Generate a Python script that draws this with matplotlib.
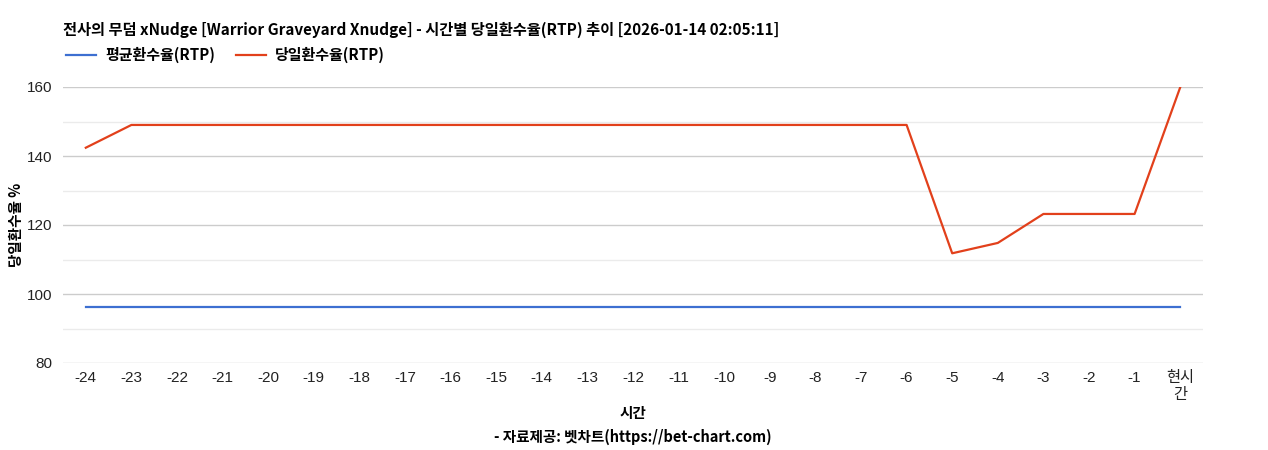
import matplotlib

matplotlib.use("Agg")

import matplotlib.pyplot as plt
from matplotlib.ticker import MultipleLocator

plt.rcParams["font.family"] = ["Noto Sans CJK KR", "DejaVu Sans"]

# data
hours = ["-24", "-23", "-22", "-21", "-20", "-19", "-18", "-17", "-16", "-15",
         "-14", "-13", "-12", "-11", "-10", "-9", "-8", "-7", "-6", "-5",
         "-4", "-3", "-2", "-1", "현시\n간"]
avg_rtp = [96.2] * 25
day_rtp = [142.4, 149.0, 149.0, 149.0, 149.0, 149.0, 149.0, 149.0, 149.0, 149.0,
           149.0, 149.0, 149.0, 149.0, 149.0, 149.0, 149.0, 149.0, 149.0, 111.8,
           114.8, 123.2, 123.2, 123.2, 159.9]

title = "전사의 무덤 xNudge [Warrior Graveyard Xnudge] - 시간별 당일환수율(RTP) 추이 [2026-01-14 02:05:11]"
avg_label = "평균환수율(RTP)"
day_label = "당일환수율(RTP)"

W, H = 1268, 450
fig = plt.figure(figsize=(W / 100, H / 100), dpi=100)
ax = fig.add_axes([63 / W, 1 - 363 / H, (1203 - 63) / W, (363 - 87) / H])

x = list(range(len(hours)))
ax.plot(x, avg_rtp, color="#3d6fd1", lw=1.6, label=avg_label)
ax.plot(x, day_rtp, color="#e2401b", lw=1.6, label=day_label)

ax.set_xlim(-0.5, len(hours) - 0.5)
ax.set_ylim(80, 160)
ax.set_xticks(x)
ax.set_xticklabels(hours, fontsize=11, color="#222222",
                   family=["Liberation Sans", "Noto Sans CJK KR"])
ax.yaxis.set_major_locator(MultipleLocator(20))
ax.yaxis.set_minor_locator(MultipleLocator(10))
for lab in ax.get_yticklabels():
    lab.set_family(["Liberation Sans", "Noto Sans CJK KR"])
ax.tick_params(axis="y", labelsize=11, labelcolor="#222222", length=0, pad=8)
ax.tick_params(axis="y", which="minor", length=0)
ax.tick_params(axis="x", length=0, pad=6)
ax.grid(axis="y", which="major", color="#cccccc", lw=1)
ax.grid(axis="y", which="minor", color="#ebebeb", lw=1)
ax.set_axisbelow(True)
for side in ["top", "right", "left", "bottom"]:
    ax.spines[side].set_visible(False)

fig.text(16 / W, 1 - 225 / H, "당일환수율 %", fontsize=10.5, fontweight="bold",
         rotation=90, ha="center", va="center")
fig.text(633 / W, 1 - 413 / H, "시간", fontsize=10.5, fontweight="bold",
         ha="center", va="center")
fig.text(63 / W, 1 - 30 / H, title, fontsize=11, fontweight="bold", va="center")
fig.text(633 / W, 1 - 437 / H, "- 자료제공: 벳차트(https://bet-chart.com)",
         fontsize=10.5, fontweight="bold", ha="center", va="center")

fig.legend(loc="center left", bbox_to_anchor=(60 / W, 1 - 55 / H), ncol=2,
           frameon=False, prop={"size": 10.8, "weight": "bold"},
           handlelength=2.0, handletextpad=0.6, columnspacing=1.4,
           borderaxespad=0)

fig.savefig("out.png", dpi=100)
